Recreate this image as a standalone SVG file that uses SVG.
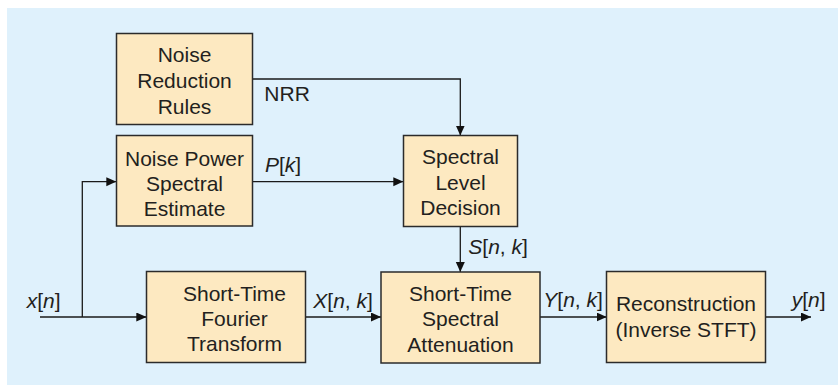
<svg xmlns="http://www.w3.org/2000/svg" width="838" height="385" viewBox="0 0 838 385">
<defs>
<style>
.box{fill:#fde9c1;stroke:#2b2b2b;stroke-width:1.5}
.t{font-family:"Liberation Sans",Arial,sans-serif;font-size:21px;fill:#231f20;text-anchor:middle}
.l{font-family:"Liberation Sans",Arial,sans-serif;font-size:21px;fill:#231f20}
.i{font-style:italic}
.c{fill:none;stroke:#1a1a1a;stroke-width:1.3}
</style>
<marker id="ah" markerUnits="userSpaceOnUse" markerWidth="10" markerHeight="10" refX="10" refY="4.5" orient="auto">
<path d="M0,0 L10,4.5 L0,9 z" fill="#111"/>
</marker>
</defs>
<rect x="0" y="0" width="838" height="385" fill="#ffffff"/>
<rect x="7" y="8" width="831" height="377" fill="#dff1fc"/>

<g id="connectors">
<path class="c" d="M252.7,79 H460.3 V135.5" marker-end="url(#ah)"/>
<path class="c" d="M252.7,181.7 H403.3" marker-end="url(#ah)"/>
<path class="c" d="M40,317 H146.3" marker-end="url(#ah)"/>
<path class="c" d="M82.3,317 V181.7 H116.3" marker-end="url(#ah)"/>
<path class="c" d="M305.7,317 H381" marker-end="url(#ah)"/>
<path class="c" d="M460.3,226.7 V272" marker-end="url(#ah)"/>
<path class="c" d="M540,317 H606.7" marker-end="url(#ah)"/>
<path class="c" d="M765.7,317 H811" marker-end="url(#ah)"/>
</g>

<g id="nrr">
<rect class="box" x="116.5" y="33.5" width="136" height="91"/>
<text class="t" x="184.5" y="62.3">Noise</text>
<text class="t" x="184.5" y="88.3">Reduction</text>
<text class="t" x="184.5" y="114">Rules</text>
</g>

<g id="nps">
<rect class="box" x="116.5" y="135.5" width="136" height="90.5"/>
<text class="t" x="184.5" y="165.7">Noise Power</text>
<text class="t" x="184.5" y="190.7">Spectral</text>
<text class="t" x="184.5" y="215.7">Estimate</text>
</g>

<g id="stft">
<rect class="box" x="146.5" y="271.5" width="159" height="91"/>
<text class="t" x="234.5" y="300.7">Short-Time</text>
<text class="t" x="234.5" y="325.7">Fourier</text>
<text class="t" x="234.5" y="351">Transform</text>
</g>

<g id="sld">
<rect class="box" x="403.5" y="135.5" width="114" height="91"/>
<text class="t" x="460.5" y="164.3">Spectral</text>
<text class="t" x="460.5" y="190">Level</text>
<text class="t" x="460.5" y="215.3">Decision</text>
</g>

<g id="stsa">
<rect class="box" x="381" y="272" width="159" height="91"/>
<text class="t" x="460.5" y="300.7">Short-Time</text>
<text class="t" x="460.5" y="326">Spectral</text>
<text class="t" x="460.5" y="351.7">Attenuation</text>
</g>

<g id="recon">
<rect class="box" x="606.5" y="271.5" width="159" height="91"/>
<text class="t" x="686" y="310.7">Reconstruction</text>
<text class="t" x="686" y="336.7">(Inverse STFT)</text>
</g>

<g id="labels">
<text class="l" x="264.3" y="100.7">NRR</text>
<text class="l" x="265" y="171.7"><tspan class="i">P</tspan>[<tspan class="i">k</tspan>]</text>
<text class="l" x="26.7" y="307.7"><tspan class="i">x</tspan>[<tspan class="i">n</tspan>]</text>
<text class="l" x="313.3" y="307.7"><tspan class="i">X</tspan>[<tspan class="i">n</tspan>, <tspan class="i">k</tspan>]</text>
<text class="l" x="468.3" y="254.3"><tspan class="i">S</tspan>[<tspan class="i">n</tspan>, <tspan class="i">k</tspan>]</text>
<text class="l" x="543.3" y="307.3"><tspan class="i">Y</tspan>[<tspan class="i">n</tspan>, <tspan class="i">k</tspan>]</text>
<text class="l" x="791.7" y="307.3"><tspan class="i">y</tspan>[<tspan class="i">n</tspan>]</text>
</g>
</svg>
